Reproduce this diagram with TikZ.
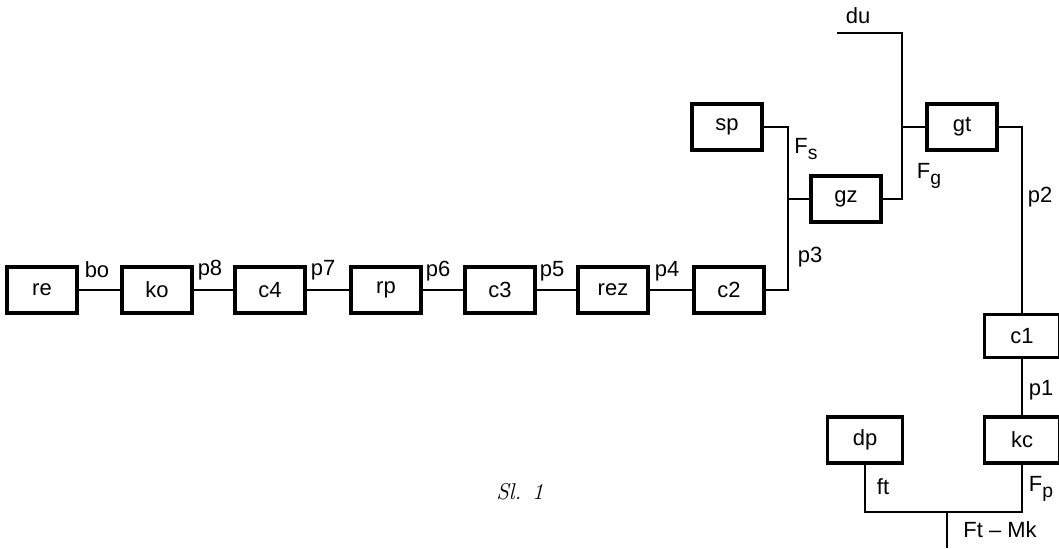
\documentclass[tikz,border=0pt]{standalone}
\usepackage{fontspec}
\setsansfont{Liberation Sans}
\usepackage{tikz}
\usetikzlibrary{positioning}

\newcommand{\donji}[1]{\raisebox{-0.45ex}{\fontsize{11}{13}\selectfont #1}}

\begin{document}
\begin{tikzpicture}[
    blok/.style={rectangle, draw, line width=2pt, minimum width=1.4cm, minimum height=0.92cm, align=center, font=\sffamily\fontsize{12.5}{14}\selectfont},
    veza/.style={line width=1.2pt},
    oznaka/.style={inner sep=1pt, font=\sffamily\fontsize{12.5}{14}\selectfont}
]
    \useasboundingbox (0,0) rectangle (21.18,10.96);

    % lower chain
    \node[blok] (re)  at (0.84,5.16)  {re};
    \node[blok] (ko)  at (3.14,5.16)  {ko};
    \node[blok] (c4)  at (5.40,5.16)  {c4};
    \node[blok] (rp)  at (7.72,5.16)  {rp};
    \node[blok] (c3)  at (10.00,5.16) {c3};
    \node[blok] (rez) at (12.26,5.16) {rez};
    \node[blok] (c2)  at (14.58,5.16) {c2};

    % upper part
    \node[blok] (sp) at (14.54,8.42) {sp};
    \node[blok] (gz) at (16.92,6.98) {gz};
    \node[blok] (gt) at (19.24,8.42) {gt};

    % right column
    \node[blok, minimum width=1.5cm, minimum height=0.86cm] (c1) at (20.44,4.24) {c1};
    \node[blok, minimum width=1.5cm] (kc) at (20.44,2.16) {kc};
    \node[blok, minimum width=1.5cm] (dp) at (17.30,2.16) {dp};

    % junctions and free ends
    \coordinate (j1) at (15.76,6.98);
    \coordinate (j2) at (18.04,8.42);
    \coordinate (duv) at (18.04,10.30);
    \coordinate (duk) at (16.74,10.30);
    \coordinate (j3) at (18.94,0.72);
    \coordinate (izlaz) at (18.94,0);

    \draw[veza] (re) -- (ko);
    \draw[veza] (ko) -- (c4);
    \draw[veza] (c4) -- (rp);
    \draw[veza] (rp) -- (c3);
    \draw[veza] (c3) -- (rez);
    \draw[veza] (rez) -- (c2);
    \draw[veza] (c2.east) -| (j1);
    \draw[veza] (sp.east) -| (j1);
    \draw[veza] (j1) -- (gz.west);
    \draw[veza] (gz.east) -| (j2);
    \draw[veza] (j2) -- (duv) -- (duk);
    \draw[veza] (j2) -- (gt.west);
    \draw[veza] (gt.east) -| (c1.north);
    \draw[veza] (c1) -- (kc);
    \draw[veza] (kc.south) |- (j3);
    \draw[veza] (dp.south) |- (j3);
    \draw[veza] (j3) -- (izlaz);

    % labels
    \node[oznaka] (lbo) at (1.94,5.56) {bo};
    \node[oznaka] (lp8) at (4.20,5.56) {p8};
    \node[oznaka] (lp7) at (6.46,5.56) {p7};
    \node[oznaka] (lp6) at (8.76,5.54) {p6};
    \node[oznaka] (lp5) at (11.04,5.54) {p5};
    \node[oznaka] (lp4) at (13.34,5.54) {p4};
    \node[oznaka] (lp3) at (16.20,5.82) {p3};
    \node[oznaka] (lfs) at (16.12,7.98) {F\donji{s}};
    \node[oznaka] (lfg) at (18.58,7.44) {F\donji{g}};
    \node[oznaka] (ldu) at (17.16,10.64) {du};
    \node[oznaka] (lp2) at (20.80,7.02) {p2};
    \node[oznaka] (lp1) at (20.82,3.16) {p1};
    \node[oznaka] (lfp) at (20.82,1.18) {F\donji{p}};
    \node[oznaka] (lft) at (17.66,1.22) {ft};
    \node[oznaka] (lmk) at (20.00,0.36) {Ft -- Mk};
    \node[font=\rmfamily\itshape\fontsize{13}{15}\selectfont] (slika) at (10.40,1.12) {Sl. 1};
\end{tikzpicture}
\end{document}
